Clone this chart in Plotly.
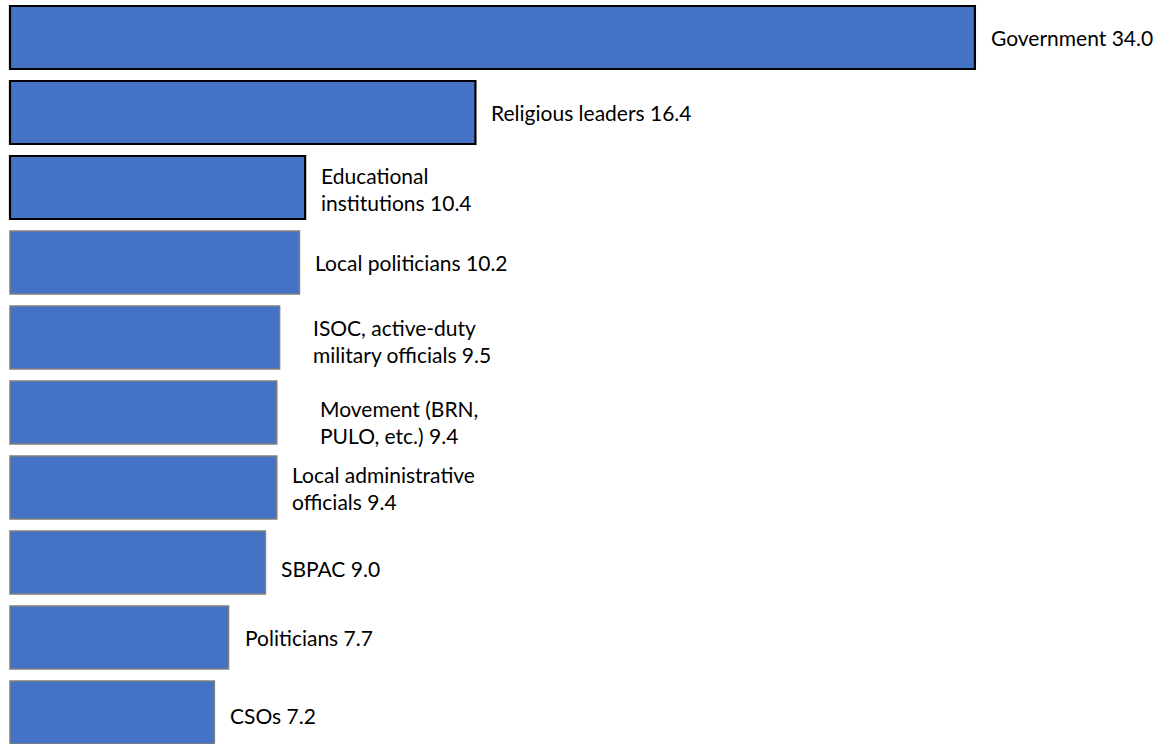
import plotly.graph_objects as go

categories = [
    "Government",
    "Religious leaders",
    "Educational<br>institutions",
    "Local politicians",
    "ISOC, active-duty<br>military officials",
    "Movement (BRN,<br>PULO, etc.)",
    "Local administrative<br>officials",
    "SBPAC",
    "Politicians",
    "CSOs",
]
values = [34.0, 16.4, 10.4, 10.2, 9.5, 9.4, 9.4, 9.0, 7.7, 7.2]

# styling (not data)
border_colors = ["#000000"] * 3 + ["#7f7f7f"] * 7
border_widths = [2.2] * 3 + [1.5] * 7
label_xshift = [14, 14, 14, 14, 31, 41, 13, 14, 14, 14]
label_yshift = [0, 0, -1, 0, -3, -9, 0, -6, 0, -3]

idx = list(range(len(values)))

fig = go.Figure()
fig.add_trace(go.Bar(
    x=values,
    y=idx,
    orientation="h",
    width=0.84,
    marker=dict(color="#4472C4", line=dict(color=border_colors, width=border_widths)),
    hoverinfo="skip",
))

for i, (c, v) in enumerate(zip(categories, values)):
    fig.add_annotation(
        x=v, y=i, xref="x", yref="y",
        text=f"{c} {v:.1f}",
        showarrow=False, xanchor="left", yanchor="middle", align="left",
        xshift=label_xshift[i], yshift=label_yshift[i],
        font=dict(family="Lato", size=21, color="#000000"),
    )

fig.update_layout(
    width=1172, height=744,
    margin=dict(l=0, r=0, t=0, b=0),
    plot_bgcolor="white", paper_bgcolor="white",
    showlegend=False,
    xaxis=dict(range=[-10 / 28.38, 1162 / 28.38], visible=False),
    yaxis=dict(range=[9.42, -0.5], visible=False),
)

fig.write_html(
    "out.html",
    config={"displayModeBar": False},
    post_script="document.body.style.margin='0';document.body.style.overflow='hidden';",
)
